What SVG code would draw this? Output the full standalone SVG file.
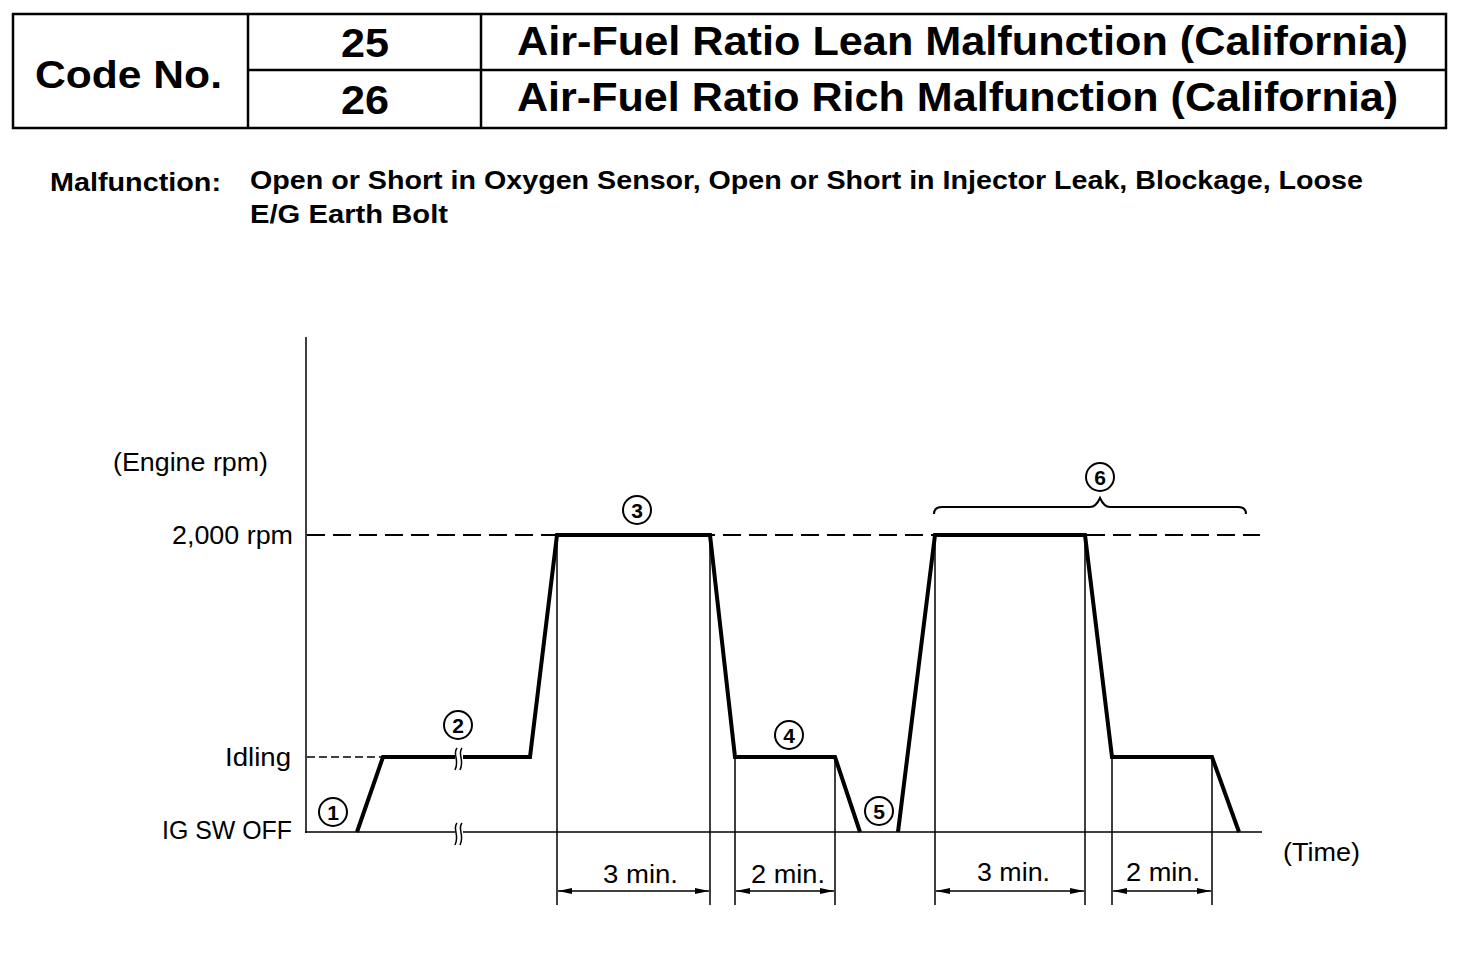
<svg xmlns="http://www.w3.org/2000/svg" width="1472" height="974" viewBox="0 0 1472 974">
<style>
.t{font-family:"Liberation Sans",Arial,sans-serif;fill:#000}
.b{font-weight:bold}
.thin{stroke:#000;stroke-width:1.5;fill:none}
.trace{stroke:#000;stroke-width:4;fill:none;stroke-linejoin:miter}
.dash{stroke:#000;stroke-width:2;fill:none;stroke-dasharray:18 8}
.circ{stroke:#000;stroke-width:2;fill:#fff}
.cn{font-family:"Liberation Sans",Arial,sans-serif;font-size:21px;font-weight:bold;text-anchor:middle}
.lbl{font-size:25px}
</style>
<defs>
<marker id="ah" viewBox="0 0 14 6" refX="14" refY="3" markerWidth="14" markerHeight="6" markerUnits="userSpaceOnUse" orient="auto-start-reverse">
<path d="M0,0 L14,3 L0,6 Z" fill="#000"/>
</marker>
</defs>
<rect width="1472" height="974" fill="#fff"/>

<g id="header-table">
<rect x="13" y="14" width="1433" height="114" fill="none" stroke="#000" stroke-width="2.5"/>
<line x1="248" y1="14" x2="248" y2="128" stroke="#000" stroke-width="2.5"/>
<line x1="481" y1="14" x2="481" y2="128" stroke="#000" stroke-width="2.5"/>
<line x1="248" y1="70" x2="1446" y2="70" stroke="#000" stroke-width="2.5"/>
<text class="t b" x="35" y="88" font-size="38" textLength="187" lengthAdjust="spacingAndGlyphs">Code No.</text>
<text class="t b" x="341" y="57" font-size="40" textLength="48" lengthAdjust="spacingAndGlyphs">25</text>
<text class="t b" x="341" y="114" font-size="40" textLength="48" lengthAdjust="spacingAndGlyphs">26</text>
<text class="t b" x="517" y="55" font-size="41" textLength="891" lengthAdjust="spacingAndGlyphs">Air-Fuel Ratio Lean Malfunction (California)</text>
<text class="t b" x="517" y="111" font-size="41" textLength="881" lengthAdjust="spacingAndGlyphs">Air-Fuel Ratio Rich Malfunction (California)</text>
</g>

<g id="malfunction">
<text class="t b" x="50" y="191" font-size="25" textLength="171" lengthAdjust="spacingAndGlyphs">Malfunction:</text>
<text class="t b" x="250" y="189" font-size="25" textLength="1113" lengthAdjust="spacingAndGlyphs">Open or Short in Oxygen Sensor, Open or Short in Injector Leak, Blockage, Loose</text>
<text class="t b" x="250" y="223" font-size="25" textLength="198" lengthAdjust="spacingAndGlyphs">E/G Earth Bolt</text>
</g>

<g id="axes">
<line class="thin" x1="306" y1="337" x2="306" y2="833"/>
<line class="thin" x1="305" y1="832" x2="1262" y2="832"/>
<line class="dash" x1="307" y1="535" x2="1260" y2="535"/>
<line x1="307" y1="757" x2="383" y2="757" stroke="#000" stroke-width="1.5" stroke-dasharray="8 4"/>
<text class="t lbl" x="113" y="471" textLength="155" lengthAdjust="spacingAndGlyphs">(Engine rpm)</text>
<text class="t lbl" x="172" y="544" textLength="121" lengthAdjust="spacingAndGlyphs">2,000 rpm</text>
<text class="t lbl" x="225" y="766" textLength="66" lengthAdjust="spacingAndGlyphs">Idling</text>
<text class="t lbl" x="162" y="839" textLength="130" lengthAdjust="spacingAndGlyphs">IG SW OFF</text>
<text class="t lbl" x="1283" y="861" textLength="77" lengthAdjust="spacingAndGlyphs">(Time)</text>
</g>

<g id="guides">
<path class="thin" d="M557,537 V905 M710,537 V905 M735,759 V905 M835,759 V905 M935,537 V905 M1085,537 V905 M1112,759 V905 M1212,759 V905"/>
</g>

<g id="trace">
<path class="trace" d="M357,832 L383,757 L530,757 L557,535 L710,535 L735,757 L835,757 L860,832"/>
<path class="trace" d="M898,832 L935,535 L1085,535 L1112,757 L1212,757 L1239,832"/>
</g>

<g id="breaks">
<rect x="455" y="752" width="8" height="10" fill="#fff"/>
<path class="thin" d="M457,748 C452,754 460,760 455,770 M462,748 C457,754 465,760 460,770"/>
<rect x="455" y="827" width="8" height="10" fill="#fff"/>
<path class="thin" d="M457,823 C452,829 460,835 455,845 M462,823 C457,829 465,835 460,845"/>
</g>

<g id="dimensions">
<line class="thin" x1="558" y1="891" x2="709" y2="891" marker-start="url(#ah)" marker-end="url(#ah)"/>
<line class="thin" x1="736" y1="891" x2="834" y2="891" marker-start="url(#ah)" marker-end="url(#ah)"/>
<line class="thin" x1="936" y1="891" x2="1084" y2="891" marker-start="url(#ah)" marker-end="url(#ah)"/>
<line class="thin" x1="1113" y1="891" x2="1211" y2="891" marker-start="url(#ah)" marker-end="url(#ah)"/>
<text class="t lbl" x="603" y="883" textLength="75" lengthAdjust="spacingAndGlyphs">3 min.</text>
<text class="t lbl" x="751" y="883" textLength="74" lengthAdjust="spacingAndGlyphs">2 min.</text>
<text class="t lbl" x="977" y="881" textLength="73" lengthAdjust="spacingAndGlyphs">3 min.</text>
<text class="t lbl" x="1126" y="881" textLength="74" lengthAdjust="spacingAndGlyphs">2 min.</text>
</g>

<g id="brace6">
<path d="M934,514 Q934,507 942,507 L1090,507 Q1096,507 1100,498 Q1104,507 1110,507 L1238,507 Q1246,507 1246,514" fill="none" stroke="#000" stroke-width="2"/>
</g>

<g id="step1"><circle class="circ" cx="333" cy="812" r="14"/><text class="cn" x="333" y="820">1</text></g>
<g id="step2"><circle class="circ" cx="458" cy="725" r="14"/><text class="cn" x="458" y="733">2</text></g>
<g id="step3"><circle class="circ" cx="637" cy="510" r="14"/><text class="cn" x="637" y="518">3</text></g>
<g id="step4"><circle class="circ" cx="789" cy="735" r="14"/><text class="cn" x="789" y="743">4</text></g>
<g id="step5"><circle class="circ" cx="879" cy="811" r="14"/><text class="cn" x="879" y="819">5</text></g>
<g id="step6"><circle class="circ" cx="1100" cy="477" r="14"/><text class="cn" x="1100" y="485">6</text></g>
</svg>
